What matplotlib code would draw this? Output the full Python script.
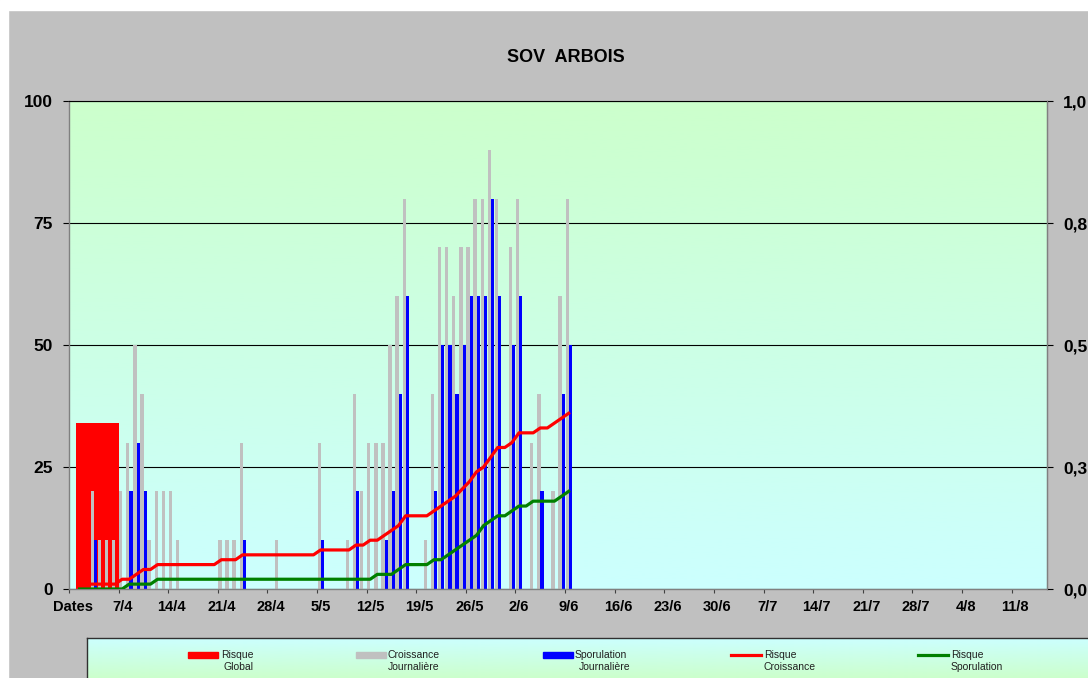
import numpy as np
import pandas as pd
import matplotlib
matplotlib.use('Agg')
import matplotlib.pyplot as plt
from matplotlib.patches import Rectangle
from matplotlib.lines import Line2D
from decimal import Decimal, ROUND_HALF_UP

plt.rcParams['font.family'] = ['Liberation Sans', 'DejaVu Sans']

# one category per day, first one is the "Dates" header
days = pd.date_range('2009-04-01', '2009-08-15')
categories = ['Dates'] + [f'{d.day}/{d.month}' for d in days]

# daily values from 1/4 to 9/6 (one line = one week)
croissance = [0, 0, 20, 10, 10, 10, 20,
              30, 50, 40, 10, 20, 20, 20,
              10, 0, 0, 0, 0, 0, 10,
              10, 10, 30, 0, 0, 0, 0,
              10, 0, 0, 0, 0, 0, 30,
              0, 0, 0, 10, 40, 20, 30,
              30, 30, 50, 60, 80, 0, 0,
              10, 40, 70, 70, 60, 70, 70,
              80, 80, 90, 80, 0, 70, 80,
              0, 30, 40, 0, 20, 60, 80]
sporulation = [0, 0, 10, 0, 0, 0, 0,
               20, 30, 20, 0, 0, 0, 0,
               0, 0, 0, 0, 0, 0, 0,
               0, 0, 10, 0, 0, 0, 0,
               0, 0, 0, 0, 0, 0, 10,
               0, 0, 0, 0, 20, 0, 0,
               0, 10, 20, 40, 60, 0, 0,
               0, 20, 50, 50, 40, 50, 60,
               60, 60, 80, 60, 0, 50, 60,
               0, 0, 20, 0, 0, 40, 50]
risque_croissance = [0.00, 0.01, 0.01, 0.01, 0.01, 0.01, 0.02,
                     0.02, 0.03, 0.04, 0.04, 0.05, 0.05, 0.05,
                     0.05, 0.05, 0.05, 0.05, 0.05, 0.05, 0.06,
                     0.06, 0.06, 0.07, 0.07, 0.07, 0.07, 0.07,
                     0.07, 0.07, 0.07, 0.07, 0.07, 0.07, 0.08,
                     0.08, 0.08, 0.08, 0.08, 0.09, 0.09, 0.10,
                     0.10, 0.11, 0.12, 0.13, 0.15, 0.15, 0.15,
                     0.15, 0.16, 0.17, 0.18, 0.19, 0.205, 0.22,
                     0.24, 0.25, 0.27, 0.29, 0.29, 0.30, 0.32,
                     0.32, 0.32, 0.33, 0.33, 0.34, 0.35, 0.36]
risque_sporulation = [0, 0, 0, 0, 0, 0, 0,
                      0.01, 0.01, 0.01, 0.01, 0.02, 0.02, 0.02,
                      0.02, 0.02, 0.02, 0.02, 0.02, 0.02, 0.02,
                      0.02, 0.02, 0.02, 0.02, 0.02, 0.02, 0.02,
                      0.02, 0.02, 0.02, 0.02, 0.02, 0.02, 0.02,
                      0.02, 0.02, 0.02, 0.02, 0.02, 0.02, 0.02,
                      0.03, 0.03, 0.03, 0.04, 0.05, 0.05, 0.05,
                      0.05, 0.06, 0.06, 0.07, 0.08, 0.09, 0.10,
                      0.11, 0.13, 0.14, 0.15, 0.15, 0.16, 0.17,
                      0.17, 0.18, 0.18, 0.18, 0.18, 0.19, 0.20]
risque_global = 34

W, H = 1088, 678
fig = plt.figure(figsize=(W / 100, H / 100), dpi=100, facecolor='#C0C0C0')
fig.patches.append(Rectangle((0, 1 - 10 / H), 1, 10 / H, transform=fig.transFigure,
                             color='white', zorder=-1))
fig.patches.append(Rectangle((0, 0), 8 / W, 1, transform=fig.transFigure,
                             color='white', zorder=-1))

ax = fig.add_axes([69 / W, 1 - 589 / H, 978 / W, 488 / H])

# background gradient, green at top to cyan at bottom
t = np.linspace(0, 1, 256)[:, None]
top = np.array([204, 255, 204]) / 255
bot = np.array([204, 255, 255]) / 255
ax.imshow((top + (bot - top) * t)[:, None, :], extent=[0, 1, 0, 1],
          transform=ax.transAxes, aspect='auto', zorder=0)

x = np.arange(1, len(croissance) + 1)
ax.bar(3.5, risque_global, width=6, color='#FF0000', zorder=1)
ax.bar(x - 0.2, croissance, width=0.47, color='#C0C0C0', zorder=2)
ax.bar(x + 0.25, sporulation, width=0.45, color='#0000FF', zorder=2)

ax.set_xlim(-0.5, len(categories) - 0.5)
ax.set_ylim(0, 100)
ax.set_axisbelow(True)
ax.yaxis.grid(True, color='black', lw=0.8)

ax.set_yticks([0, 25, 50, 75, 100], ['0', '25', '50', '75', '100'], fontweight='bold')
ax.tick_params(axis='y', length=4.5, width=0.8, pad=7, labelsize=12.5)

ax.set_xticks(np.arange(-0.5, len(categories) - 0.5, 7), [])
ax.set_xticks(np.arange(0, len(categories), 7), categories[::7], minor=True,
              fontweight='bold')
ax.tick_params(axis='x', which='major', length=3, width=0.8, color='#404040')
ax.tick_params(axis='x', which='minor', length=0, pad=8, labelsize=10.5)

ax.spines['top'].set_color('black')
ax.spines['top'].set_linewidth(0.8)
for s in ['left', 'right', 'bottom']:
    ax.spines[s].set_color('#808080')
    ax.spines[s].set_linewidth(1.0)

ax2 = ax.twinx()
ax2.plot(x, risque_croissance, color='#FF0000', lw=2.3, solid_joinstyle='round')
ax2.plot(x, risque_sporulation, color='#008000', lw=2.3, solid_joinstyle='round')
ax2.set_ylim(0, 1)
rticks = [0, 0.25, 0.5, 0.75, 1.0]
rlabels = [str(Decimal(str(v)).quantize(Decimal('0.1'), ROUND_HALF_UP)).replace('.', ',')
           for v in rticks]
ax2.set_yticks(rticks, rlabels, fontweight='bold')
ax2.tick_params(axis='y', length=4.5, width=0.8, pad=7, labelsize=12.5)
for s in ['left', 'top', 'bottom']:
    ax2.spines[s].set_visible(False)
ax2.spines['right'].set_color('#808080')

fig.text(566 / W, 1 - 57 / H, 'SOV  ARBOIS', ha='center', va='center',
         fontsize=13, fontweight='bold')

# legend box, cut by the bottom and right edges
lax = fig.add_axes([87 / W, 0, 1 - 87 / W, 40 / H])
lax.imshow((bot + (top - bot) * t)[:, None, :], extent=[0, 1, 0, 1],
           transform=lax.transAxes, aspect='auto', zorder=0)
lax.set_xlim(87, W)
lax.set_ylim(H, 638)
lax.set_xticks([])
lax.set_yticks([])
for s in ['right', 'bottom']:
    lax.spines[s].set_visible(False)
for s in ['top', 'left']:
    lax.spines[s].set_color('#303030')
    lax.spines[s].set_linewidth(1.0)

lax.add_patch(Rectangle((188, 652), 30, 6, color='#FF0000'))
lax.add_patch(Rectangle((356, 652), 30, 6, color='#C0C0C0'))
lax.add_patch(Rectangle((543, 652), 30, 6, color='#0000FF'))
lax.add_line(Line2D([731, 761], [655, 655], color='#FF0000', lw=2.3))
lax.add_line(Line2D([918, 948], [655, 655], color='#008000', lw=2.3))

leg_texts = [(221, 224, 'Risque', 'Global'),
             (388, 388, 'Croissance', 'Journalière'),
             (575, 579, 'Sporulation', 'Journalière'),
             (764, 764, 'Risque', 'Croissance'),
             (951, 951, 'Risque', 'Sporulation')]
for x1, x2, l1, l2 in leg_texts:
    lax.text(x1, 655, l1, fontsize=7.5, va='center', ha='left', color='#202020')
    lax.text(x2, 667, l2, fontsize=7.5, va='center', ha='left', color='#202020')

fig.savefig('out.png', dpi=100, facecolor=fig.get_facecolor())
